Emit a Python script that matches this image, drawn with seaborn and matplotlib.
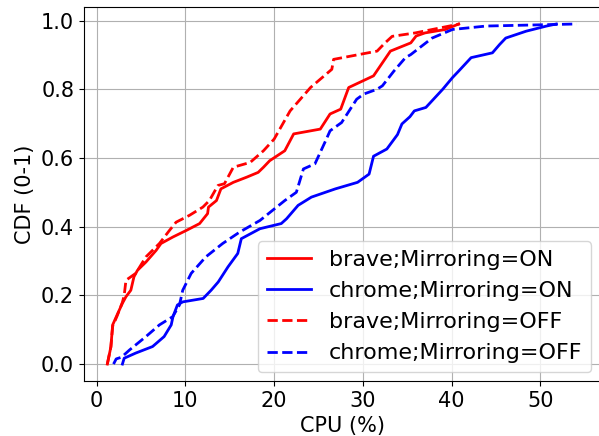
import matplotlib
matplotlib.use("Agg")
import matplotlib.pyplot as plt
import seaborn as sns

brave_on_x = [1.2, 1.6, 1.8, 2.3, 2.9, 3.3, 3.85, 4.2, 4.6, 5.55, 6.7, 7.25, 8.6, 10.1,
              11.6, 12.5, 12.6, 13.5, 14.0, 15.4, 16.9, 18.2, 18.8, 19.5, 21.2, 22.2,
              25.2, 26.3, 27.5, 28.4, 31.2, 33.1, 35.4, 36.0, 37.0, 39.3, 40.8]
brave_on_y = [0.0, 0.05, 0.114, 0.143, 0.177, 0.196, 0.215, 0.254, 0.273, 0.297, 0.331,
              0.351, 0.370, 0.389, 0.409, 0.438, 0.457, 0.476, 0.51, 0.529, 0.544, 0.558,
              0.573, 0.592, 0.621, 0.670, 0.684, 0.728, 0.742, 0.805, 0.839, 0.911, 0.935,
              0.955, 0.964, 0.974, 0.99]

chrome_on_x = [2.9, 3.1, 4.4, 6.3, 7.6, 8.4, 8.6, 9.1, 9.7, 12.0, 12.9, 13.7, 14.8, 15.9,
               16.3, 18.4, 20.8, 21.4, 22.7, 24.2, 26.9, 29.4, 30.7, 31.2, 32.7, 33.9,
               34.4, 35.3, 35.8, 37.1, 39.0, 40.1, 40.8, 42.2, 44.6, 45.4, 46.1, 48.4,
               50.7, 51.8]
chrome_on_y = [0.0, 0.017, 0.032, 0.051, 0.08, 0.114, 0.138, 0.172, 0.181, 0.191, 0.215,
               0.239, 0.283, 0.322, 0.365, 0.394, 0.409, 0.423, 0.462, 0.486, 0.51, 0.529,
               0.553, 0.605, 0.626, 0.668, 0.699, 0.72, 0.737, 0.747, 0.80, 0.834, 0.853,
               0.892, 0.906, 0.930, 0.949, 0.969, 0.984, 0.99]

brave_off_x = [1.2, 1.6, 1.8, 2.3, 2.9, 3.1, 3.3, 4.4, 5.55, 7.07, 8.2, 8.95, 10.46, 11.97,
               12.7, 13.67, 14.4, 15.4, 17.3, 18.8, 20.0, 21.8, 24.1, 26.5, 26.7, 31.6,
               32.5, 33.3, 35.9, 40.9]
brave_off_y = [0.0, 0.05, 0.11, 0.14, 0.18, 0.20, 0.244, 0.264, 0.312, 0.351, 0.389, 0.413,
               0.433, 0.457, 0.476, 0.52, 0.525, 0.573, 0.587, 0.621, 0.655, 0.737, 0.805,
               0.858, 0.887, 0.911, 0.935, 0.954, 0.964, 0.99]

chrome_off_x = [1.9, 2.2, 2.8, 3.7, 5.55, 7.07, 8.57, 9.33, 9.7, 10.65, 12.3, 14.2, 16.1,
                18.4, 21.2, 22.5, 23.3, 24.6, 25.8, 26.3, 27.6, 29.3, 30.1, 31.6, 32.2,
                33.5, 34.8, 35.4, 37.8, 40.1, 43.9, 54.1]
chrome_off_y = [0.0, 0.015, 0.02, 0.041, 0.08, 0.114, 0.138, 0.172, 0.215, 0.264, 0.312,
                0.351, 0.384, 0.418, 0.476, 0.50, 0.568, 0.583, 0.650, 0.679, 0.703, 0.771,
                0.786, 0.80, 0.81, 0.853, 0.892, 0.901, 0.949, 0.974, 0.984, 0.99]

series = [
    ("brave;Mirroring=ON", brave_on_x, brave_on_y, "red", "-"),
    ("chrome;Mirroring=ON", chrome_on_x, chrome_on_y, "blue", "-"),
    ("brave;Mirroring=OFF", brave_off_x, brave_off_y, "red", "--"),
    ("chrome;Mirroring=OFF", chrome_off_x, chrome_off_y, "blue", "--"),
]

fig, ax = plt.subplots(figsize=(5.99, 4.36), dpi=100)
for label, xs, ys, color, ls in series:
    sns.lineplot(x=xs, y=ys, ax=ax, color=color, linestyle=ls, linewidth=2,
                 label=label, sort=False, estimator=None)

ax.grid(True)
ax.set_xlabel("CPU (%)", fontsize=15)
ax.set_ylabel("CDF (0-1)", fontsize=15)
ax.tick_params(labelsize=15)
ax.set_yticks([0.0, 0.2, 0.4, 0.6, 0.8, 1.0])
ax.legend(loc="lower right", fontsize=16, labelspacing=0.5, borderaxespad=0.4)
fig.subplots_adjust(left=0.14, right=1.002, bottom=0.126, top=0.984)
fig.savefig("out.png", dpi=100)
